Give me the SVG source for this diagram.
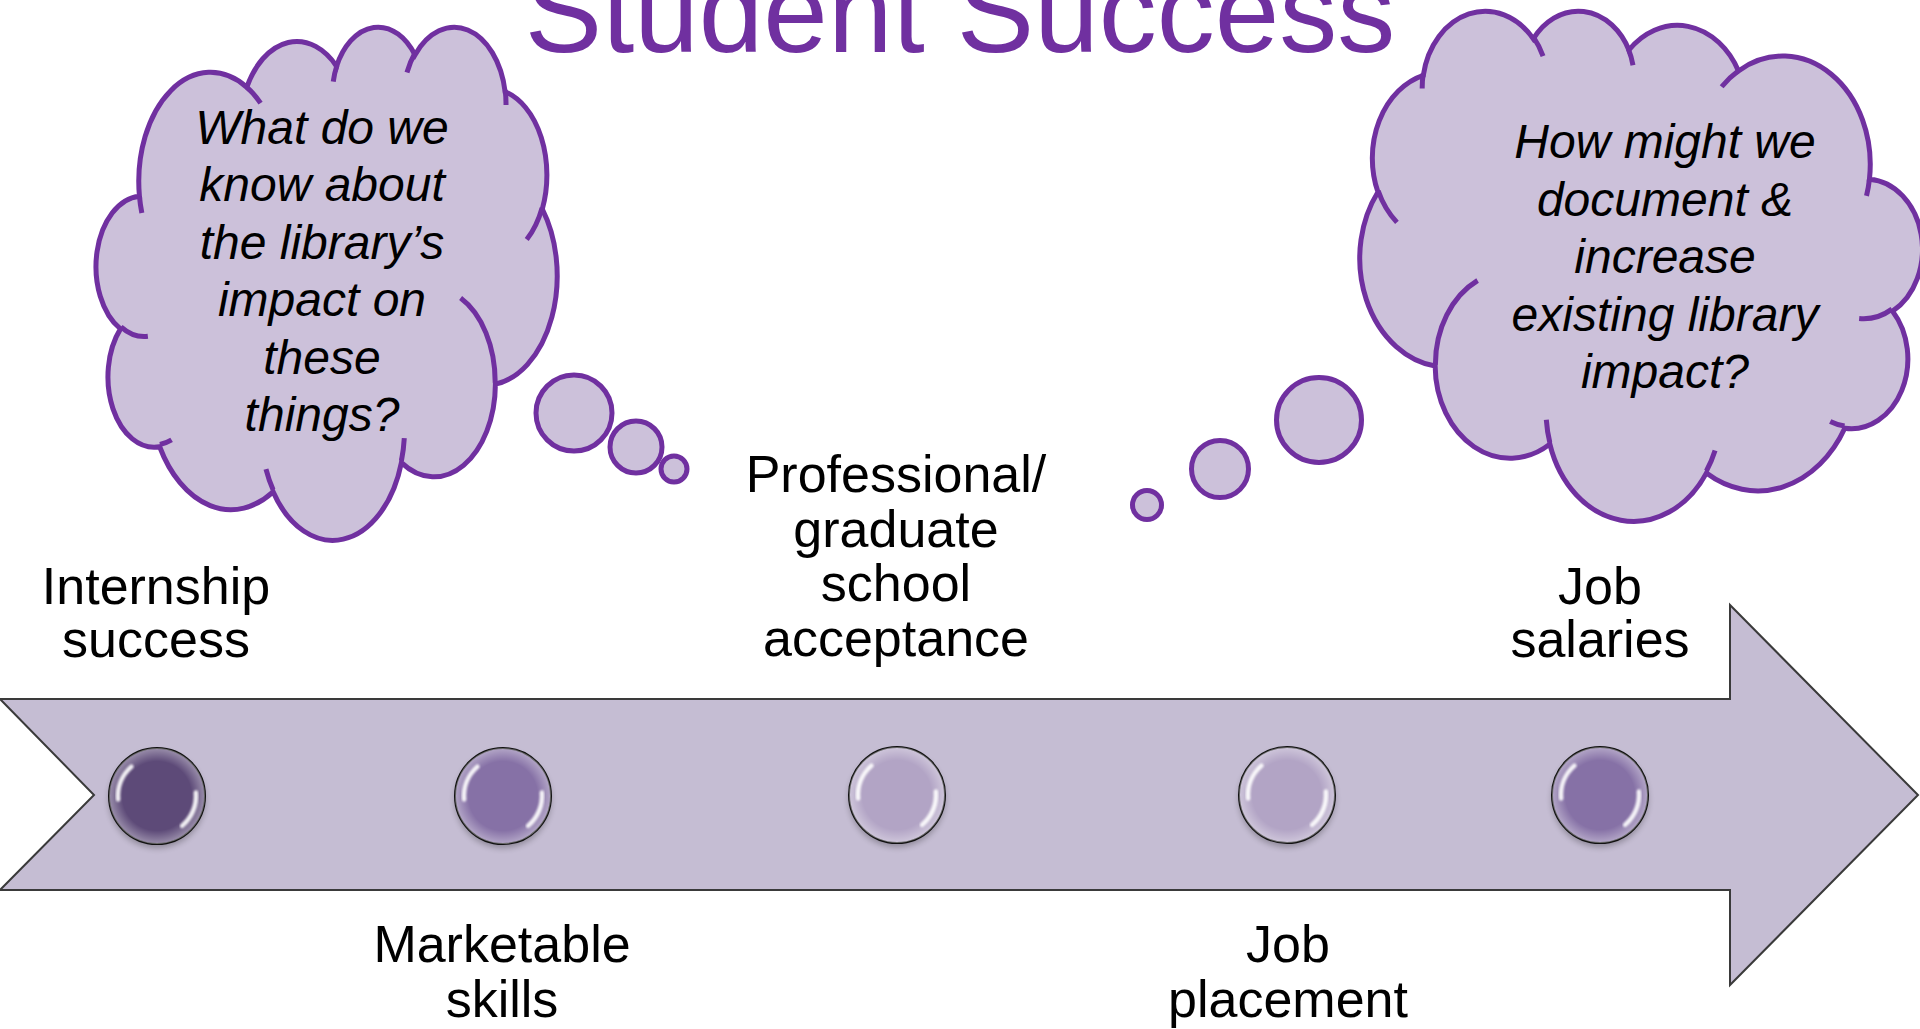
<svg xmlns="http://www.w3.org/2000/svg" xmlns:xlink="http://www.w3.org/1999/xlink" width="1920" height="1029" viewBox="0 0 1920 1029">
<style>
  .cloud { fill: #CCC1DA; stroke: #7030A0; stroke-width: 5; }
  .cloudline { fill: none; stroke: #7030A0; stroke-width: 5; }
  .bubble { fill: #CCC1DA; stroke: #7030A0; stroke-width: 5; }
  .q { font-family: "Liberation Sans", Arial, sans-serif; font-style: italic; font-size: 48px; fill: #000; text-anchor: middle; }
  .lbl { font-family: "Liberation Sans", Arial, sans-serif; font-size: 52px; fill: #000; text-anchor: middle; }
  .title { font-family: "Liberation Sans", Arial, sans-serif; font-size: 116px; fill: #7030A0; text-anchor: middle; }
  .bead { stroke: #111111; stroke-width: 2; }
  .gl { fill: none; stroke: #FFFFFF; stroke-width: 4.5; stroke-linecap: round; opacity: 0.9; }
</style>
<defs>
  <path id="cloud-body" vector-effect="non-scaling-stroke" d="M3900,14370 A6753,9190 0 0 1 14004,5201 A5333,7267 0 0 1 22455,3431 A4365,5945 0 0 1 29832,2480 A4857,6595 0 0 1 38317,5574 A5333,7273 0 0 1 41817,15460 A6775,9220 0 0 1 37403,30203 A5785,7867 0 0 1 28554,36813 A6752,9215 0 0 1 16480,39266 A7720,10543 0 0 1 5804,35474 A4360,5918 0 0 1 2113,25552 A4345,5945 0 0 1 3900,14370 Z"/>
  <path id="cloud-inner" vector-effect="non-scaling-stroke" d="M4693,26177 A4345,5945 0 0 1 2159,25379 M6928,34899 A4360,5918 0 0 1 5819,35281 M16478,39090 A6752,9215 0 0 1 15809,37348 M28827,34751 A6752,9215 0 0 1 28560,36662 M34129,22954 A5785,7867 0 0 1 37381,30089 M41798,15354 A5333,7273 0 0 1 40350,18029 M38324,5426 A4857,6595 0 0 1 38401,6691 M29078,3952 A4857,6595 0 0 1 29821,2339 M22141,4720 A4365,5945 0 0 1 22500,3332 M14000,5192 A6753,9190 0 0 1 15301,6542 M4127,15789 A6753,9190 0 0 1 3901,14372"/>
  <radialGradient id="rim" cx="0.5" cy="0.5" r="0.5">
    <stop offset="0.72" stop-color="#FFFFFF" stop-opacity="0"/>
    <stop offset="1" stop-color="#FFFFFF" stop-opacity="0.38"/>
  </radialGradient>
  <filter id="soft" x="-20%" y="-20%" width="140%" height="140%">
    <feGaussianBlur stdDeviation="0.9"/>
  </filter>
  <filter id="shadow" x="-30%" y="-30%" width="160%" height="160%">
    <feGaussianBlur stdDeviation="3"/>
  </filter>
  <g id="gloss">
    <circle r="48" fill="url(#rim)"/>
    <path class="gl" filter="url(#soft)" d="M-38.9,3.4 A39,39 0 0 1 -25.6,-29.4"/>
    <path class="gl" filter="url(#soft)" d="M38.9,-3.4 A39,39 0 0 1 25.1,29.9"/>
  </g>
  <ellipse id="bead-shadow" cx="0" cy="4" rx="48" ry="48" fill="#000000" opacity="0.28" filter="url(#shadow)"/>
</defs>

<rect x="0" y="0" width="1920" height="1029" fill="#FFFFFF"/>

<g id="title">
  <text class="title" x="960" y="52">Student Success</text>
</g>

<g id="timeline-arrow">
  <path d="M0,699 L1730,699 L1730,605 L1918,795 L1730,985 L1730,890 L0,890 L94,795 Z" fill="#C5BDD3" stroke="#3A3A3A" stroke-width="2" stroke-linejoin="miter"/>
</g>

<g id="cloud-left">
  <g transform="translate(98,25.5) scale(0.010625,0.011875)">
    <use xlink:href="#cloud-body" class="cloud"/>
    <use xlink:href="#cloud-inner" class="cloudline"/>
  </g>
  <circle class="bubble" cx="574" cy="413" r="38"/>
  <circle class="bubble" cx="636" cy="447" r="26"/>
  <circle class="bubble" cx="674" cy="469" r="13"/>
  <text class="q" x="322" y="143.5">What do we</text>
  <text class="q" x="322" y="201">know about</text>
  <text class="q" x="322" y="258.5">the library’s</text>
  <text class="q" x="322" y="316">impact on</text>
  <text class="q" x="322" y="373.5">these</text>
  <text class="q" x="322" y="431">things?</text>
</g>

<g id="cloud-right">
  <g transform="translate(1920,9.5) scale(-0.012963,0.011806)">
    <use xlink:href="#cloud-body" class="cloud"/>
    <use xlink:href="#cloud-inner" class="cloudline"/>
  </g>
  <circle class="bubble" cx="1147" cy="505" r="14.5"/>
  <circle class="bubble" cx="1220" cy="469" r="28.5"/>
  <circle class="bubble" cx="1319" cy="420" r="42.5"/>
  <text class="q" x="1665" y="158">How might we</text>
  <text class="q" x="1665" y="216">document &amp;</text>
  <text class="q" x="1665" y="273">increase</text>
  <text class="q" x="1665" y="331">existing library</text>
  <text class="q" x="1665" y="388">impact?</text>
</g>

<g id="milestone-internship">
  <use xlink:href="#bead-shadow" x="157" y="796"/>
  <circle class="bead" cx="157" cy="796" r="48" fill="#5D4A78"/>
  <use xlink:href="#gloss" x="157" y="796"/>
  <text class="lbl" x="156" y="604">Internship</text>
  <text class="lbl" x="156" y="657">success</text>
</g>

<g id="milestone-skills">
  <use xlink:href="#bead-shadow" x="503" y="796"/>
  <circle class="bead" cx="503" cy="796" r="48" fill="#8671A6"/>
  <use xlink:href="#gloss" x="503" y="796"/>
  <text class="lbl" x="502" y="962">Marketable</text>
  <text class="lbl" x="502" y="1017">skills</text>
</g>

<g id="milestone-graduate">
  <use xlink:href="#bead-shadow" x="897" y="795"/>
  <circle class="bead" cx="897" cy="795" r="48" fill="#B2A4C5"/>
  <use xlink:href="#gloss" x="897" y="795"/>
  <text class="lbl" x="896" y="492">Professional/</text>
  <text class="lbl" x="896" y="546.5">graduate</text>
  <text class="lbl" x="896" y="601">school</text>
  <text class="lbl" x="896" y="655.5">acceptance</text>
</g>

<g id="milestone-placement">
  <use xlink:href="#bead-shadow" x="1287" y="795"/>
  <circle class="bead" cx="1287" cy="795" r="48" fill="#B2A4C5"/>
  <use xlink:href="#gloss" x="1287" y="795"/>
  <text class="lbl" x="1288" y="962">Job</text>
  <text class="lbl" x="1288" y="1017">placement</text>
</g>

<g id="milestone-salaries">
  <use xlink:href="#bead-shadow" x="1600" y="795"/>
  <circle class="bead" cx="1600" cy="795" r="48" fill="#8671A6"/>
  <use xlink:href="#gloss" x="1600" y="795"/>
  <text class="lbl" x="1600" y="604">Job</text>
  <text class="lbl" x="1600" y="657">salaries</text>
</g>

<g id="connectors"/>
</svg>
